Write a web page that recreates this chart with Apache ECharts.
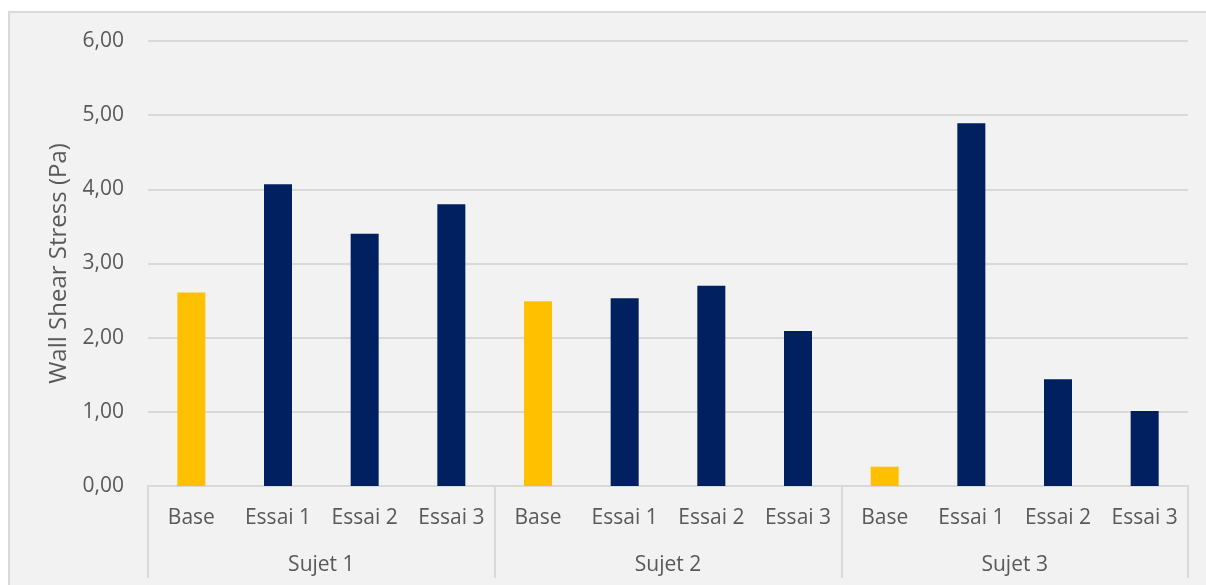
<!DOCTYPE html>
<html>
<head>
<meta charset="utf-8">
<script src="https://cdn.jsdelivr.net/npm/echarts@6/dist/echarts.min.js"></script>
<style>
  html, body { margin: 0; padding: 0; background: #ffffff; overflow: hidden; }
  #bg { position: absolute; left: 8px; top: 11px; width: 1210px; height: 590px; background: #F2F2F2; border: 2px solid #D9D9D9; box-sizing: border-box; }
  #chart { position: absolute; left: 0; top: 0; width: 1206px; height: 585px; }
</style>
</head>
<body>
<div id="bg"></div>
<div id="chart"></div>
<script>
// Data
var groups = ['Sujet 1', 'Sujet 2', 'Sujet 3'];
var trials = ['Base', 'Essai 1', 'Essai 2', 'Essai 3'];
var sujet1 = [2.61, 4.07, 3.40, 3.80];
var sujet2 = [2.49, 2.53, 2.70, 2.09];
var sujet3 = [0.26, 4.89, 1.44, 1.01];
var yTicks = [0, 1, 2, 3, 4, 5, 6];

var categories = [];
groups.forEach(function () { trials.forEach(function (t) { categories.push(t); }); });
var values = sujet1.concat(sujet2, sujet3);

var textColor = '#595959';
var lineColor = '#D9D9D9';
var font = '"Open Sans", "Noto Sans", sans-serif';

var chart = echarts.init(document.getElementById('chart'), null, { renderer: 'canvas' });
chart.setOption({
  backgroundColor: 'transparent',
  animation: false,
  grid: { left: 148, right: 18, top: 41, bottom: 99, containLabel: false },
  xAxis: [
    {
      type: 'category',
      data: categories,
      position: 'bottom',
      offset: 0,
      axisLine: { show: true, lineStyle: { color: lineColor, width: 2 } },
      axisTick: { show: false },
      axisLabel: { interval: 0, color: textColor, fontSize: 21, fontFamily: font, margin: 22 },
      splitLine: { show: false }
    },
    {
      type: 'category',
      data: groups,
      position: 'bottom',
      offset: 0,
      axisLine: { show: false },
      axisTick: { show: true, length: 92, lineStyle: { color: lineColor, width: 2 } },
      axisLabel: { interval: 0, color: textColor, fontSize: 21, fontFamily: font, margin: 69 },
      splitLine: { show: false }
    }
  ],
  yAxis: {
    type: 'value',
    min: yTicks[0],
    max: yTicks[yTicks.length - 1],
    interval: 1,
    name: 'Wall Shear Stress (Pa)',
    nameLocation: 'middle',
    nameGap: 77,
    nameRotate: 90,
    nameTextStyle: { color: textColor, fontSize: 24, fontFamily: font },
    axisLine: { show: false },
    axisTick: { show: false },
    axisLabel: {
      color: textColor, fontSize: 21, fontFamily: font, margin: 24,
      formatter: function (v) { return v.toFixed(2).replace('.', ','); }
    },
    splitLine: { show: true, lineStyle: { color: lineColor, width: 2 } }
  },
  series: [
    {
      type: 'bar',
      xAxisIndex: 0,
      data: values,
      barWidth: 28,
      itemStyle: {
        color: function (p) { return trials[p.dataIndex % trials.length] === 'Base' ? '#FFC000' : '#002060'; }
      }
    }
  ]
});
</script>
</body>
</html>
